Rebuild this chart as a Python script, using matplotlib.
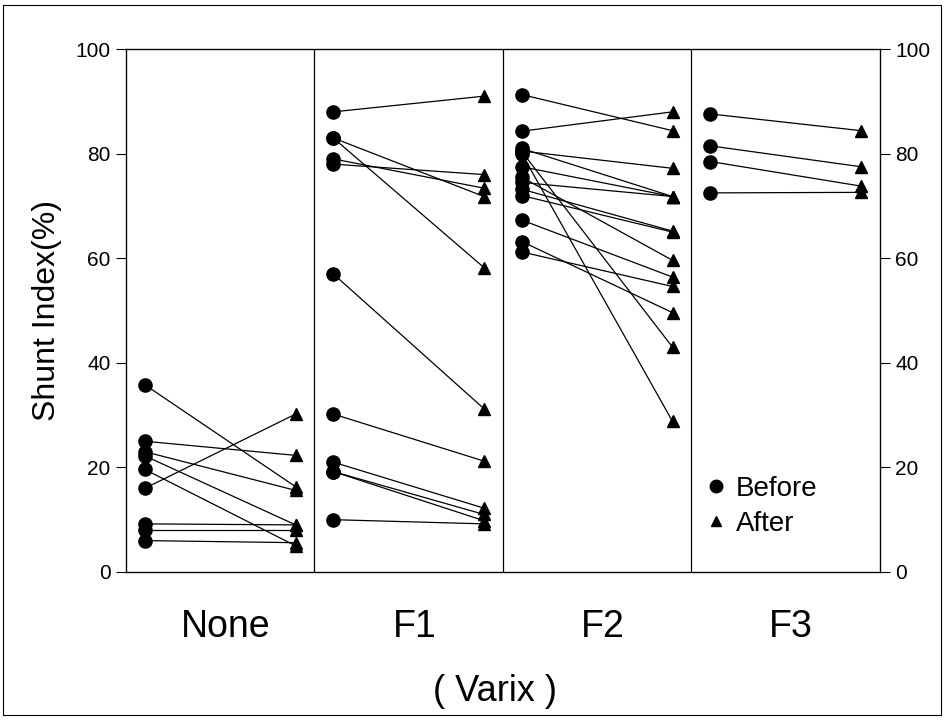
import matplotlib.pyplot as plt
from matplotlib.lines import Line2D
from matplotlib.patches import Rectangle

plt.rcParams['font.family'] = ['Liberation Sans', 'DejaVu Sans']

groups = ["None", "F1", "F2", "F3"]

# shunt index before / after, one pair per patient
none_before = [35.8, 25.0, 23.0, 22.2, 19.6, 16.0, 9.2, 8.0, 6.0]
none_after = [16.3, 22.3, 15.6, 9.0, 5.0, 30.2, 9.0, 8.0, 5.6]

f1_before = [88.0, 83.0, 83.0, 79.0, 78.0, 57.0, 30.2, 21.0, 19.2, 19.2, 10.0]
f1_after = [91.0, 71.8, 58.2, 73.4, 76.0, 31.2, 21.2, 12.2, 11.0, 9.8, 9.2]

f2_before = [91.3, 84.3, 81.0, 80.4, 80.5, 77.5, 74.5, 73.2, 72.0, 75.5, 67.3, 63.2, 61.2, 80.0]
f2_after = [84.4, 88.0, 71.8, 43.0, 77.2, 71.8, 71.8, 65.2, 65.0, 59.6, 56.4, 49.6, 54.6, 28.8]

f3_before = [87.6, 81.5, 78.5, 72.5]
f3_after = [84.4, 77.5, 73.8, 72.6]

before = [none_before, f1_before, f2_before, f3_before]
after = [none_after, f1_after, f2_after, f3_after]

fig = plt.figure(figsize=(9.44, 7.22), dpi=100)
ax = fig.add_axes([0.1335, 0.2078, 0.7985, 0.7242])

for i in range(len(groups)):
    for b, a in zip(before[i], after[i]):
        ax.plot([i + 0.1, i + 0.9], [b, a], color="black", lw=0.9, zorder=2)
    ax.plot([i + 0.1] * len(before[i]), before[i], "o", color="black",
            ms=9.5, zorder=3)
    ax.plot([i + 0.9] * len(after[i]), after[i], "^", color="black",
            ms=9, zorder=3)

# panel dividers
for i in range(1, len(groups)):
    ax.axvline(i, color="black", lw=0.9)

ax.set_xlim(0, 4)
ax.set_ylim(0, 100)
ax.set_yticks([0, 20, 40, 60, 80, 100])
ax.tick_params(axis="y", direction="out", length=7, labelsize=15, pad=4)
ax.set_xticks([])
ax.set_ylabel("Shunt Index(%)", fontsize=23, labelpad=10)
for s in ax.spines.values():
    s.set_linewidth(0.9)

# group names and axis title below the panels
for i, g in enumerate(groups):
    ax.text(i + 0.53, -0.105, g, transform=ax.get_xaxis_transform(),
            ha="center", va="center", fontsize=27)
ax.text(0.49, -0.229, "( Varix )", transform=ax.transAxes,
        ha="center", va="center", fontsize=26)

ax2 = ax.twinx()
ax2.set_ylim(0, 100)
ax2.set_yticks([0, 20, 40, 60, 80, 100])
ax2.tick_params(axis="y", direction="out", length=7, labelsize=15, pad=4)

handles = [Line2D([], [], marker="o", ls="", color="black", ms=9),
           Line2D([], [], marker="^", ls="", color="black", ms=7)]
ax.legend(handles, ["Before", "After"], loc="lower left",
          bbox_to_anchor=(0.728, 0.02), frameon=False, fontsize=20,
          handletextpad=0.1, labelspacing=0.3, handlelength=1.2)

# scanned page frame
fig.patches.append(Rectangle((0.003, 0.01), 0.994, 0.983, transform=fig.transFigure,
                             fill=False, lw=0.8, color="black"))

fig.savefig("out.png", dpi=100)
